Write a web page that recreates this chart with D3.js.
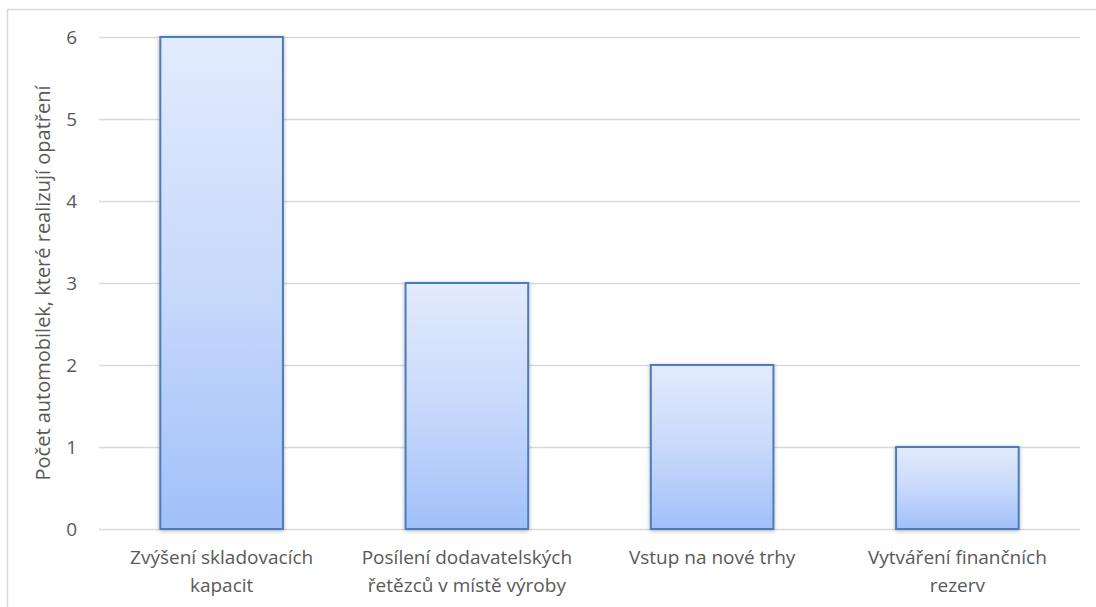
<!DOCTYPE html>
<html>
<head>
<meta charset="utf-8">
<script src="https://cdn.jsdelivr.net/npm/d3@7"></script>
<style>
  html, body { margin: 0; padding: 0; background: #fff; }
  svg { display: block; }
  text { font-family: "Open Sans", Lato, "Liberation Sans", sans-serif; fill: #595959; }
</style>
</head>
<body>
<svg id="chart" width="1096" height="607"></svg>
<script>
// Measures taken by car makers (count of companies)
const categories = [
  ["Zvýšení skladovacích", "kapacit"],
  ["Posílení dodavatelských", "řetězců v místě výroby"],
  ["Vstup na nové trhy"],
  ["Vytváření finančních", "rezerv"]
];
const values = [6, 3, 2, 1];
const yTicks = [0, 1, 2, 3, 4, 5, 6];
const yTitle = "Počet automobilek, které realizují opatření";

const svg = d3.select("#chart");
const W = 1096, H = 607;
const plot = { left: 99, right: 1080, top: 37, bottom: 529 };

// chart frame
svg.append("rect")
  .attr("x", 7.5).attr("y", 9.5)
  .attr("width", W).attr("height", H)
  .attr("fill", "#fff").attr("stroke", "#d9d9d9").attr("stroke-width", 1.5);

const defs = svg.append("defs");
const grad = defs.append("linearGradient")
  .attr("id", "barFill").attr("x1", 0).attr("y1", 0).attr("x2", 0).attr("y2", 1);
grad.append("stop").attr("offset", "0%").attr("stop-color", "#e3ebfd");
grad.append("stop").attr("offset", "50%").attr("stop-color", "#c8d9fb");
grad.append("stop").attr("offset", "100%").attr("stop-color", "#a1c0f9");

const shadow = defs.append("filter").attr("id", "shadow")
  .attr("x", "-10%").attr("y", "-10%").attr("width", "120%").attr("height", "120%");
shadow.append("feGaussianBlur").attr("in", "SourceAlpha").attr("stdDeviation", 2).attr("result", "b");
shadow.append("feOffset").attr("in", "b").attr("dx", 0).attr("dy", 1).attr("result", "o");
shadow.append("feComponentTransfer").attr("in", "o").attr("result", "s")
  .append("feFuncA").attr("type", "linear").attr("slope", 0.3);
const merge = shadow.append("feMerge");
merge.append("feMergeNode").attr("in", "s");
merge.append("feMergeNode").attr("in", "SourceGraphic");

const x = d3.scaleBand()
  .domain(d3.range(categories.length))
  .range([plot.left, plot.right])
  .paddingInner(0.5)
  .paddingOuter(0.25);

const y = d3.scaleLinear()
  .domain([0, 6])
  .range([plot.bottom, plot.top]);

// gridlines and tick labels
const yAxis = d3.axisLeft(y)
  .tickValues(yTicks)
  .tickSize(-(plot.right - plot.left))
  .tickPadding(22)
  .tickFormat(d3.format("d"));

const gy = svg.append("g")
  .attr("transform", `translate(${plot.left},0)`)
  .call(yAxis);
gy.select(".domain").remove();
gy.selectAll(".tick line").attr("stroke", "#d9d9d9").attr("stroke-width", 1.5);
gy.selectAll(".tick text").attr("font-size", 19).attr("fill", "#595959");

// bars
svg.append("g").selectAll("rect")
  .data(values)
  .join("rect")
  .attr("x", (d, i) => x(i))
  .attr("y", d => y(d))
  .attr("width", x.bandwidth())
  .attr("height", d => y(0) - y(d))
  .attr("fill", "url(#barFill)")
  .attr("stroke", "#4a7ebb")
  .attr("stroke-width", 2)
  .attr("filter", "url(#shadow)");

// category labels
const gx = svg.append("g");
categories.forEach((lines, i) => {
  const t = gx.append("text")
    .attr("x", x(i) + x.bandwidth() / 2)
    .attr("y", 564)
    .attr("text-anchor", "middle")
    .attr("font-size", 19);
  lines.forEach((ln, j) => {
    t.append("tspan")
      .attr("x", x(i) + x.bandwidth() / 2)
      .attr("dy", j === 0 ? 0 : 28)
      .text(ln);
  });
});

// y axis title
svg.append("text")
  .attr("transform", `translate(50,${(plot.top + plot.bottom) / 2}) rotate(-90)`)
  .attr("text-anchor", "middle")
  .attr("font-size", 20)
  .text(yTitle);
</script>
</body>
</html>
